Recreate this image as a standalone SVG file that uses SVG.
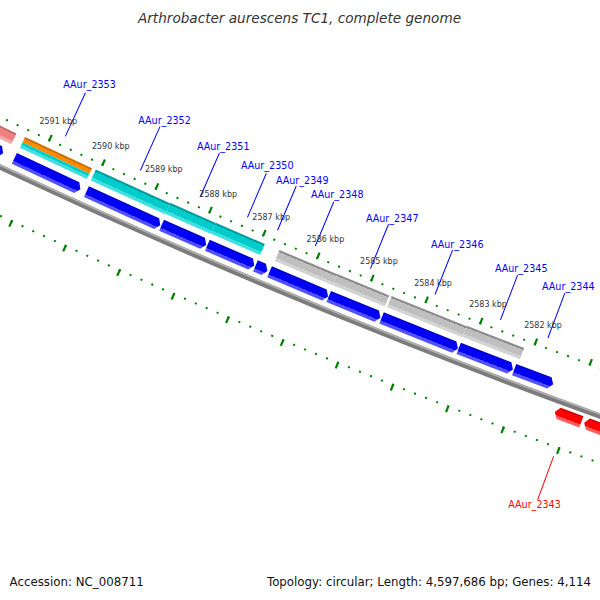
<svg xmlns="http://www.w3.org/2000/svg" width="600" height="600" viewBox="0 0 600 600">
<defs>
  <linearGradient id="gBlue" x1="0" y1="0" x2="0" y2="1">
    <stop offset="0" stop-color="#0000c0"/><stop offset="0.1" stop-color="#0000c0"/>
    <stop offset="0.1" stop-color="#0000f5"/><stop offset="0.72" stop-color="#0000f5"/>
    <stop offset="0.72" stop-color="#5050ff"/><stop offset="1" stop-color="#5050ff"/>
  </linearGradient>
  <linearGradient id="gGray" x1="0" y1="0" x2="0" y2="1">
    <stop offset="0" stop-color="#8c8c8c"/><stop offset="0.17" stop-color="#8c8c8c"/>
    <stop offset="0.17" stop-color="#bfbfbf"/><stop offset="0.72" stop-color="#bfbfbf"/>
    <stop offset="0.72" stop-color="#d3d3d3"/><stop offset="1" stop-color="#d3d3d3"/>
  </linearGradient>
  <linearGradient id="gCyan" x1="0" y1="0" x2="0" y2="1">
    <stop offset="0" stop-color="#009e9e"/><stop offset="0.17" stop-color="#009e9e"/>
    <stop offset="0.17" stop-color="#00cccc"/><stop offset="0.72" stop-color="#00cccc"/>
    <stop offset="0.72" stop-color="#40e0e0"/><stop offset="1" stop-color="#40e0e0"/>
  </linearGradient>
  <linearGradient id="gOrange" x1="0" y1="0" x2="0" y2="1">
    <stop offset="0" stop-color="#c87000"/><stop offset="0.33" stop-color="#c87000"/>
    <stop offset="0.33" stop-color="#ff8c00"/><stop offset="1" stop-color="#ff8c00"/>
  </linearGradient>
  <linearGradient id="gCyanLow" x1="0" y1="0" x2="0" y2="1">
    <stop offset="0" stop-color="#00cccc"/><stop offset="0.45" stop-color="#00cccc"/>
    <stop offset="0.45" stop-color="#40e0e0"/><stop offset="1" stop-color="#40e0e0"/>
  </linearGradient>
  <linearGradient id="gPink" x1="0" y1="0" x2="0" y2="1">
    <stop offset="0" stop-color="#c46a6a"/><stop offset="0.17" stop-color="#c46a6a"/>
    <stop offset="0.17" stop-color="#f08080"/><stop offset="0.72" stop-color="#f08080"/>
    <stop offset="0.72" stop-color="#f5a8a8"/><stop offset="1" stop-color="#f5a8a8"/>
  </linearGradient>
  <linearGradient id="gRed" x1="0" y1="0" x2="0" y2="1">
    <stop offset="0" stop-color="#c00000"/><stop offset="0.1" stop-color="#c00000"/>
    <stop offset="0.1" stop-color="#ff0000"/><stop offset="0.72" stop-color="#ff0000"/>
    <stop offset="0.72" stop-color="#ff5c5c"/><stop offset="1" stop-color="#ff5c5c"/>
  </linearGradient>
</defs>
<style>
  .kbp{font-family:"DejaVu Sans",sans-serif;font-size:8px;fill:#333;text-anchor:middle}
  .gl{font-family:"DejaVu Sans",sans-serif;font-size:9.6px;fill:#0000ff;text-anchor:middle}
  .glr{font-family:"DejaVu Sans",sans-serif;font-size:9.6px;fill:#ff0000;text-anchor:middle}
  .foot{font-family:"DejaVu Sans",sans-serif;font-size:11.8px;fill:#111}
  .title{font-family:"DejaVu Sans",sans-serif;font-size:13.6px;font-style:italic;fill:#333;text-anchor:middle}
  .cog{stroke:none}
</style>
<rect width="600" height="600" fill="#ffffff"/>
<g transform="translate(3039.2,-6302.9)">
  <g id="backbone" fill="none">
    <circle r="7148.05" stroke="#7c7c7c" stroke-width="5.5"/>
    <circle r="7146.2" stroke="#b0b0b0" stroke-width="1.8"/>
  </g>
  <g id="ticks" transform="rotate(25.8374)" fill="none" stroke="#008000">
    <path d="M0,7102.8 A7102.8,7102.8 0 0 0 817.703,7055.574" stroke-width="2" stroke-dasharray="2 9.7074" stroke-dashoffset="1"/>
    <path d="M0,7100.8 A7100.8,7100.8 0 0 0 817.4725,7053.5875" stroke-width="7" stroke-dasharray="2.2 56.3205" stroke-dashoffset="1.1"/>
    <path d="M0,7192.3 A7192.3,7192.3 0 0 0 828.006,7144.479" stroke-width="2" stroke-dasharray="2 9.8549" stroke-dashoffset="1"/>
    <path d="M0,7194.8 A7194.8,7194.8 0 0 0 828.294,7146.9625" stroke-width="7" stroke-dasharray="2.2 57.0952" stroke-dashoffset="1.1"/>
  </g>
  <g id="gene-left">
    <rect transform="rotate(25.8374) translate(0,7100.8)" x="0" y="9.5" width="84.45" height="12" fill="url(#gPink)"/>
    <polygon transform="rotate(25.6485) translate(0,7100.8)" points="0,27.5 53.62,27.5 57.62,33.5 53.62,39.5 0,39.5" fill="url(#gBlue)"/>
  </g>
  <g id="gene-AAur_2353">
    <rect transform="rotate(25.0819) translate(0,7100.8)" x="0" y="9.5" width="73.9" height="6" fill="url(#gOrange)"/>
    <rect transform="rotate(25.0819) translate(0,7100.8)" x="0" y="15.5" width="73.9" height="6" fill="url(#gCyanLow)"/>
    <polygon transform="rotate(25.0866) translate(0,7100.8)" points="0,27.5 68.91,27.5 72.91,33.5 68.91,39.5 0,39.5" fill="url(#gBlue)"/>
  </g>
  <g id="gene-AAur_2352">
    <rect transform="rotate(24.4539) translate(0,7100.8)" x="0" y="9.5" width="81.52" height="12" fill="url(#gCyan)"/>
    <polygon transform="rotate(24.4491) translate(0,7100.8)" points="0,27.5 77.14,27.5 81.14,33.5 77.14,39.5 0,39.5" fill="url(#gBlue)"/>
  </g>
  <g id="gene-AAur_2351">
    <rect transform="rotate(23.7975) translate(0,7100.8)" x="0" y="9.5" width="49.85" height="12" fill="url(#gCyan)"/>
    <polygon transform="rotate(23.7881) translate(0,7100.8)" points="0,27.5 44.8,27.5 48.8,33.5 44.8,39.5 0,39.5" fill="url(#gBlue)"/>
  </g>
  <g id="gene-AAur_2350">
    <rect transform="rotate(23.3961) translate(0,7100.8)" x="0" y="9.5" width="53.37" height="12" fill="url(#gCyan)"/>
    <polygon transform="rotate(23.3867) translate(0,7100.8)" points="0,27.5 47.15,27.5 51.15,33.5 47.15,39.5 0,39.5" fill="url(#gBlue)"/>
  </g>
  <g id="gene-AAur_2349">
    <polygon transform="rotate(22.9664) translate(0,7100.8)" points="0,27.5 8.94,27.5 12.94,33.5 8.94,39.5 0,39.5" fill="url(#gBlue)"/>
  </g>
  <g id="gene-AAur_2348">
    <rect transform="rotate(22.8389) translate(0,7100.8)" x="0" y="9.5" width="62.75" height="12" fill="url(#gGray)"/>
    <polygon transform="rotate(22.8437) translate(0,7100.8)" points="0,27.5 59.5,27.5 63.5,33.5 59.5,39.5 0,39.5" fill="url(#gBlue)"/>
  </g>
  <g id="gene-AAur_2347">
    <rect transform="rotate(22.3337) translate(0,7100.8)" x="0" y="9.5" width="56.3" height="12" fill="url(#gGray)"/>
    <polygon transform="rotate(22.329) translate(0,7100.8)" points="0,27.5 51.86,27.5 55.86,33.5 51.86,39.5 0,39.5" fill="url(#gBlue)"/>
  </g>
  <g id="gene-AAur_2346">
    <rect transform="rotate(21.8615) translate(0,7100.8)" x="0" y="9.5" width="80.93" height="12" fill="url(#gGray)"/>
    <polygon transform="rotate(21.8709) translate(0,7100.8)" points="0,27.5 78.31,27.5 82.31,33.5 78.31,39.5 0,39.5" fill="url(#gBlue)"/>
  </g>
  <g id="gene-AAur_2345">
    <rect transform="rotate(21.2098) translate(0,7100.8)" x="0" y="9.5" width="61.58" height="12" fill="url(#gGray)"/>
    <polygon transform="rotate(21.2051) translate(0,7100.8)" points="0,27.5 54.21,27.5 58.21,33.5 54.21,39.5 0,39.5" fill="url(#gBlue)"/>
  </g>
  <g id="gene-AAur_2344">
    <polygon transform="rotate(20.7282) translate(0,7100.8)" points="0,27.5 37.75,27.5 41.75,33.5 37.75,39.5 0,39.5" fill="url(#gBlue)"/>
  </g>
  <g id="gene-AAur_2343">
    <polygon transform="rotate(20.3032) translate(0,7100.8)" points="0,59 4,53 28.32,53 28.32,65 4,65" fill="url(#gRed)"/>
  </g>
  <g id="gene-right">
    <polygon transform="rotate(20.053) translate(0,7100.8)" points="0,59 4,53 73.76,53 73.76,65 4,65" fill="url(#gRed)"/>
  </g>
  <g id="connectors" stroke="#0000ff" stroke-width="1">
    <line transform="rotate(24.7891)" x1="0" y1="7092.8" x2="0" y2="7044.8"/>
    <line transform="rotate(24.1233)" x1="0" y1="7092.8" x2="0" y2="7044.8"/>
    <line transform="rotate(23.5945)" x1="0" y1="7092.8" x2="0" y2="7044.8"/>
    <line transform="rotate(23.1789)" x1="0" y1="7092.8" x2="0" y2="7044.8"/>
    <line transform="rotate(22.9145)" x1="0" y1="7092.8" x2="0" y2="7044.8"/>
    <line transform="rotate(22.5839)" x1="0" y1="7092.8" x2="0" y2="7044.8"/>
    <line transform="rotate(22.1023)" x1="0" y1="7092.8" x2="0" y2="7044.8"/>
    <line transform="rotate(21.5404)" x1="0" y1="7092.8" x2="0" y2="7044.8"/>
    <line transform="rotate(20.9737)" x1="0" y1="7092.8" x2="0" y2="7044.8"/>
    <line transform="rotate(20.5629)" x1="0" y1="7092.8" x2="0" y2="7044.8"/>
    <line transform="rotate(20.1899)" x1="0" y1="7201.6" x2="0" y2="7248.2" stroke="#ff0000"/>
  </g>
</g>
<g id="tick-labels">
  <text class="kbp" x="58.3" y="124">2591 kbp</text>
  <text class="kbp" x="110.8" y="148.7">2590 kbp</text>
  <text class="kbp" x="163.8" y="172">2589 kbp</text>
  <text class="kbp" x="218.2" y="196.7">2588 kbp</text>
  <text class="kbp" x="271.2" y="220">2587 kbp</text>
  <text class="kbp" x="325.4" y="242.3">2586 kbp</text>
  <text class="kbp" x="378.9" y="264.3">2585 kbp</text>
  <text class="kbp" x="433" y="285.7">2584 kbp</text>
  <text class="kbp" x="488" y="306.7">2583 kbp</text>
  <text class="kbp" x="543" y="327.7">2582 kbp</text>
</g>
<g id="gene-labels">
  <text class="gl" x="89.5" y="88.3">AAur_2353</text>
  <text class="gl" x="164.5" y="124.3">AAur_2352</text>
  <text class="gl" x="223.2" y="150">AAur_2351</text>
  <text class="gl" x="267.2" y="169.3">AAur_2350</text>
  <text class="gl" x="302.2" y="184.3">AAur_2349</text>
  <text class="gl" x="337.2" y="198.3">AAur_2348</text>
  <text class="gl" x="392.2" y="221.7">AAur_2347</text>
  <text class="gl" x="457.2" y="247.7">AAur_2346</text>
  <text class="gl" x="521.2" y="271.7">AAur_2345</text>
  <text class="gl" x="568.3" y="290">AAur_2344</text>
  <text class="glr" x="534.5" y="508.3">AAur_2343</text>
</g>
<text class="title" x="299.5" y="23">Arthrobacter aurescens TC1, complete genome</text>
<text class="foot" x="9.6" y="586">Accession: NC_008711</text>
<text class="foot" x="591" y="586" text-anchor="end">Topology: circular; Length: 4,597,686 bp; Genes: 4,114</text>
</svg>
